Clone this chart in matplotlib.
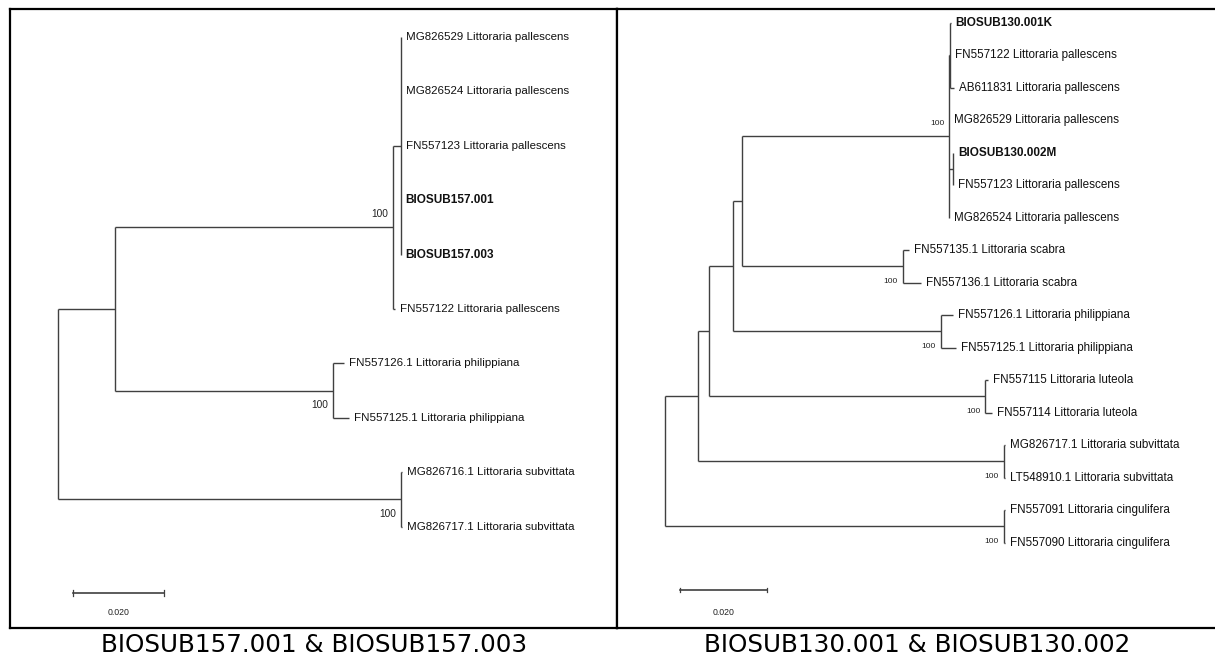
"""Two MEGA-style neighbour-joining trees for the BIOSUB Littoraria samples."""

import matplotlib

matplotlib.use("Agg")

import matplotlib.pyplot as plt

# ---- left tree: BIOSUB157.001 & BIOSUB157.003 -------------------------------
LEFT_NODES = [
    "root", "A", "P", "Q",
    "MG826529 Littoraria pallescens",
    "MG826524 Littoraria pallescens",
    "FN557123 Littoraria pallescens",
    "BIOSUB157.001",
    "BIOSUB157.003",
    "FN557122 Littoraria pallescens",
    "phil",
    "FN557126.1 Littoraria philippiana",
    "FN557125.1 Littoraria philippiana",
    "sub",
    "MG826716.1 Littoraria subvittata",
    "MG826717.1 Littoraria subvittata",
]
LEFT_PARENTS = [None, "root", "A", "P", "Q", "Q", "Q", "Q", "Q", "P",
                "A", "phil", "phil", "root", "sub", "sub"]
LEFT_LENGTHS = [0.0, 0.0126, 0.0612, 0.0016, 0.0, 0.0, 0.0, 0.0, 0.0, 0.0003,
                0.0479, 0.0024, 0.0035, 0.0755, 0.0002, 0.0002]
LEFT_BOOTSTRAP = {"P": 100, "phil": 100, "sub": 100}
LEFT_CAPTION = "BIOSUB157.001 & BIOSUB157.003"

# ---- right tree: BIOSUB130.001 & BIOSUB130.002 ------------------------------
RIGHT_NODES = [
    "root", "B", "C", "D", "E", "P", "Q",
    "BIOSUB130.001K",
    "FN557122 Littoraria pallescens",
    "AB611831 Littoraria pallescens",
    "MG826529 Littoraria pallescens",
    "R",
    "BIOSUB130.002M",
    "FN557123 Littoraria pallescens",
    "MG826524 Littoraria pallescens",
    "scab",
    "FN557135.1 Littoraria scabra",
    "FN557136.1 Littoraria scabra",
    "phil",
    "FN557126.1 Littoraria philippiana",
    "FN557125.1 Littoraria philippiana",
    "lut",
    "FN557115 Littoraria luteola",
    "FN557114 Littoraria luteola",
    "sub",
    "MG826717.1 Littoraria subvittata",
    "LT548910.1 Littoraria subvittata",
    "cing",
    "FN557091 Littoraria cingulifera",
    "FN557090 Littoraria cingulifera",
]
RIGHT_PARENTS = [None, "root", "B", "C", "D", "E", "P",
                 "Q", "Q", "Q", "P", "P", "R", "R", "P",
                 "E", "scab", "scab",
                 "D", "phil", "phil",
                 "C", "lut", "lut",
                 "B", "sub", "sub",
                 "root", "cing", "cing"]
RIGHT_LENGTHS = [0.0, 0.0076, 0.0024, 0.0056, 0.0021, 0.0476, 0.0003,
                 0.0001, 0.0, 0.0008, 0.0, 0.0009, 0.0001, 0.0, 0.0,
                 0.0370, 0.0014, 0.0041,
                 0.0478, 0.0028, 0.0035,
                 0.0636, 0.0006, 0.0016,
                 0.0703, 0.0002, 0.0002,
                 0.0779, 0.0002, 0.0002]
RIGHT_BOOTSTRAP = {"P": 100, "scab": 100, "phil": 100, "lut": 100, "sub": 100, "cing": 100}
RIGHT_CAPTION = "BIOSUB130.001 & BIOSUB130.002"

SCALE_LENGTH = 0.020
SCALE_LABEL = "0.020"

FIG_W, FIG_H = 1215, 657
LINE_COLOR = "#404040"
LABEL_FONT = ["Liberation Sans Narrow", "Liberation Sans", "DejaVu Sans"]
BOLD_FONT = ["Liberation Sans", "DejaVu Sans"]


def _layout(nodes, parents, lengths):
    children = {n: [] for n in nodes}
    for n, p in zip(nodes, parents):
        if p is not None:
            children[p].append(n)
    x = {}
    for n, p, bl in zip(nodes, parents, lengths):
        x[n] = bl if p is None else x[p] + bl
    y = {}
    leaf_i = 0
    for n in nodes:
        if not children[n]:
            y[n] = leaf_i
            leaf_i += 1

    def node_y(n):
        if n not in y:
            kids = [node_y(c) for c in children[n]]
            y[n] = 0.5 * (kids[0] + kids[-1])
        return y[n]

    for n in nodes:
        node_y(n)
    return children, x, y


def _draw_tree(ax, nodes, parents, lengths, bootstrap, above, label_size, bold_size, boot_size):
    children, x, y = _layout(nodes, parents, lengths)
    for n, p in zip(nodes, parents):
        if p is not None:
            ax.plot([x[p], x[n]], [y[n], y[n]], color=LINE_COLOR, lw=1.0, solid_capstyle="butt")
        if children[n]:
            ys = [y[c] for c in children[n]]
            ax.plot([x[n], x[n]], [min(ys), max(ys)], color=LINE_COLOR, lw=1.0, solid_capstyle="butt")
        else:
            bold = n.startswith("BIOSUB")
            ax.annotate(n, (x[n], y[n]), xytext=(3.5, 0), textcoords="offset points",
                        ha="left", va="center",
                        fontsize=bold_size if bold else label_size,
                        fontweight="bold" if bold else "normal",
                        family=BOLD_FONT if bold else LABEL_FONT,
                        color="#111111")
    for n, val in bootstrap.items():
        dy = 9.5 if n in above else -10.5
        ax.annotate(str(val), (x[n], y[n]), xytext=(-3.5, dy), textcoords="offset points",
                    ha="right", va="center", fontsize=boot_size, family=LABEL_FONT,
                    color="#222222")


def _setup_axes(ax, x_px, root_px, px_per_unit, first_leaf_px, leaf_step_px, right_spine):
    left, right = x_px
    top, bottom = 9, 628
    ax.set_position([left / FIG_W, 1 - bottom / FIG_H, (right - left) / FIG_W, (bottom - top) / FIG_H])
    xmin = -(root_px - left) / px_per_unit
    ax.set_xlim(xmin, xmin + (right - left) / px_per_unit)
    ax.set_ylim((bottom - first_leaf_px) / leaf_step_px, (top - first_leaf_px) / leaf_step_px)
    ax.set_xticks([])
    ax.set_yticks([])
    for spine in ax.spines.values():
        spine.set_linewidth(1.6)
        spine.set_color("black")
    ax.spines["right"].set_visible(right_spine)


def _scale_bar(ax, x0_px, root_px, px_per_unit, bar_px, text_px, first_leaf_px, leaf_step_px):
    x0 = (x0_px - root_px) / px_per_unit
    yb = (bar_px - first_leaf_px) / leaf_step_px
    yt = (text_px - first_leaf_px) / leaf_step_px
    ax.plot([x0, x0 + SCALE_LENGTH], [yb, yb], color=LINE_COLOR, lw=1.2)
    ax.plot([x0, x0], [yb - 0.06, yb + 0.06], color=LINE_COLOR, lw=0.9)
    ax.plot([x0 + SCALE_LENGTH] * 2, [yb - 0.06, yb + 0.06], color=LINE_COLOR, lw=0.9)
    ax.text(x0 + SCALE_LENGTH / 2, yt, SCALE_LABEL, ha="center", va="center",
            fontsize=6.3, family=LABEL_FONT, color="#222222")


fig = plt.figure(figsize=(FIG_W / 100, FIG_H / 100), dpi=100)
fig.patch.set_facecolor("white")

ax_l = fig.add_axes([0, 0, 1, 1])
_setup_axes(ax_l, (10, 617), 57.6, 4550, 37, 54.4, True)
_draw_tree(ax_l, LEFT_NODES, LEFT_PARENTS, LEFT_LENGTHS, LEFT_BOOTSTRAP, {"P"}, 8.25, 8.5, 7.3)
_scale_bar(ax_l, 73, 57.6, 4550, 593, 613, 37, 54.4)

ax_r = fig.add_axes([0, 0, 1, 1])
_setup_axes(ax_r, (617, 1217), 665, 4350, 22.7, 32.5, False)
_draw_tree(ax_r, RIGHT_NODES, RIGHT_PARENTS, RIGHT_LENGTHS, RIGHT_BOOTSTRAP, {"P"}, 8.4, 8.5, 6)
_scale_bar(ax_r, 680, 665, 4350, 590, 612, 22.7, 32.5)

fig.text(314 / FIG_W, 1 - 645 / FIG_H, LEFT_CAPTION, ha="center", va="center",
         fontsize=17.7, family="DejaVu Sans")
fig.text(917 / FIG_W, 1 - 645 / FIG_H, RIGHT_CAPTION, ha="center", va="center",
         fontsize=17.7, family="DejaVu Sans")

fig.savefig("out.png", dpi=100, facecolor="white")
